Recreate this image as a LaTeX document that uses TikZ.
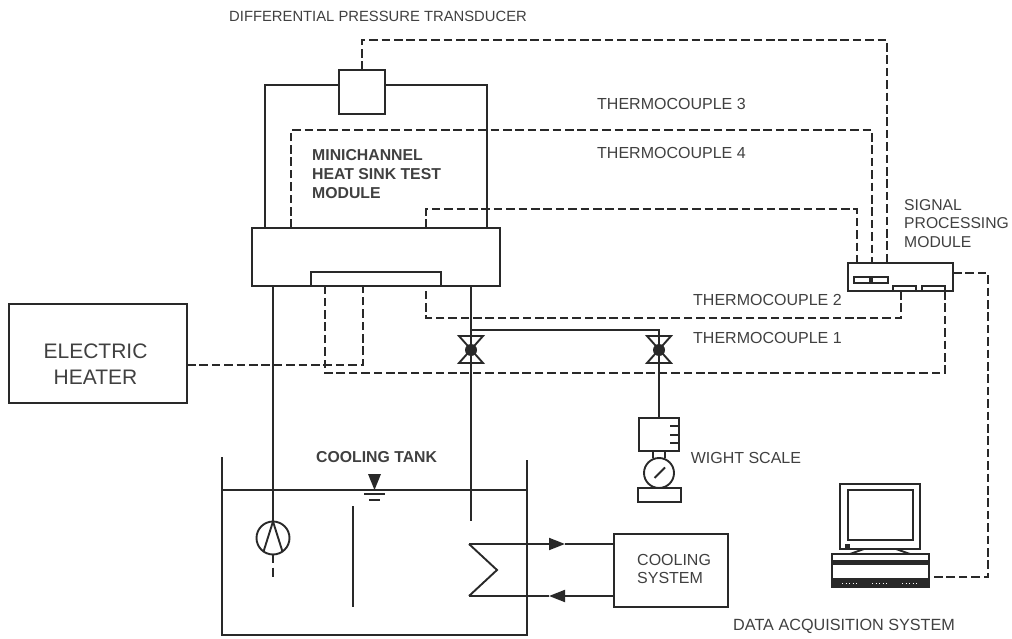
\documentclass[tikz,border=0pt]{standalone}
\usepackage{fontspec}
\setmainfont{Liberation Sans}
\usetikzlibrary{calc, arrows.meta, positioning}

\definecolor{lncol}{gray}{0.16}
\definecolor{txtcol}{gray}{0.25}

\begin{document}
\begin{tikzpicture}[
    x=1pt, y=-1pt,
    box/.style={
        rectangle, draw=lncol, line width=1.9pt, inner sep=0pt, outer sep=0pt
    },
    round/.style={
        box, circle
    },
    valve/.style={
        circle, fill=lncol, inner sep=0pt, outer sep=0pt, minimum size=12pt
    },
    pipe/.style={draw=lncol, line width=1.9pt},
    sigline/.style={draw=lncol, line width=1.9pt, dash pattern=on 8.6pt off 3.8pt},
    arr/.style={pipe, -{Triangle[length=16pt, width=12pt]}},
    lbl/.style={
        font=\fontsize{16}{18.8}\selectfont, text=txtcol, inner sep=0pt,
        align=left, anchor=west
    },
    boldlbl/.style={
        lbl, font=\fontsize{15.8}{19}\selectfont\bfseries
    },
    dots/.style={draw=white, line width=0.8pt, dash pattern=on 1pt off 2.5pt}
]
\useasboundingbox (0,0) rectangle (1012,639);

% Nodes
\node[box, minimum width=248pt, minimum height=58pt] (module) at (376,257) {};
\node[box, minimum width=46pt, minimum height=44pt] (trans) at (362,92) {};
\node[box, minimum width=130pt, minimum height=14pt] (plate) at (376,279) {};
\node[box, line width=2.4pt, minimum width=178pt, minimum height=99pt] (heater) at (98,353.5) {};
\node[box, minimum width=105pt, minimum height=28pt] (sig) at (900.5,277) {};
\node[box, minimum width=16pt, minimum height=6pt] (slota) at (862,280) {};
\node[box, minimum width=16pt, minimum height=6pt, right=2pt of slota] (slotb) {};
\node[box, minimum width=23pt, minimum height=5pt] (taba) at (904.5,288.5) {};
\node[box, minimum width=23pt, minimum height=5pt, right=6pt of taba] (tabb) {};
\node[box, minimum width=114pt, minimum height=73pt] (cool) at (671,570.5) {};

\node[valve] (valvea) at (471,350) {};
\node[valve] (valveb) at (659,350) {};
\node[box, minimum width=40pt, minimum height=33pt] (scale) at (659,434.5) {};
\node[round, minimum size=30pt] (gauge) at (659,473) {};
\node[box, minimum width=43pt, minimum height=14pt] (base) at (659.5,495) {};
\node[round, minimum size=33pt] (pump) at (273,538) {};

\node[box, minimum width=80pt, minimum height=65pt] (monitor) at (880,516.5) {};
\node[box, minimum width=65pt, minimum height=50pt] (screen) at (880.5,515) {};
\node[box, minimum width=97pt, minimum height=33pt] (kbd) at (880.5,570.5) {};
\node[rectangle, fill=lncol, inner sep=0pt, minimum width=5pt, minimum height=5pt] (led) at (847.5,546.5) {};

\coordinate (tee) at (471,330);
\coordinate (pipeend) at (471,521);
\coordinate (coila) at (469,544);
\coordinate (coilb) at (497,570);
\coordinate (coilc) at (469,596);
\coordinate (arra) at (565,544);
\coordinate (arrb) at (549,596);

% Labels
\node[lbl, font=\fontsize{14.8}{18}\selectfont] (ldiff) at (229,16) {DIFFERENTIAL PRESSURE TRANSDUCER};
\node[lbl] (lthree) at (597,104) {THERMOCOUPLE 3};
\node[lbl] (lfour) at (597,153) {THERMOCOUPLE 4};
\node[lbl] (ltwo) at (693,300) {THERMOCOUPLE 2};
\node[lbl] (lone) at (693,338) {THERMOCOUPLE 1};
\node[boldlbl] (lmod) at (312,174.5) {MINICHANNEL\\HEAT SINK TEST\\MODULE};
\node[lbl, font=\fontsize{15.7}{18.8}\selectfont] (lsig) at (904,223.5) {SIGNAL\\PROCESSING\\MODULE};
\node[lbl, align=center, anchor=center, font=\fontsize{21}{26}\selectfont] (lheat) at (95.5,364) {ELECTRIC\\HEATER};
\node[boldlbl] (ltank) at (316,457) {COOLING TANK};
\node[lbl, right=21pt of gauge.north east, yshift=4.5pt] (lwight) {WIGHT SCALE};
\node[lbl] (lcool) at (637,569) {COOLING\\SYSTEM};
\node[lbl, font=\fontsize{16.2}{19}\selectfont] (ldata) at (733,626) {DATA ACQUISITION SYSTEM};

% Test module frame
\draw[pipe] ([xshift=13pt]module.north west) |- ([yshift=7pt]trans.west);
\draw[pipe] ([xshift=-13pt]module.north east) |- ([yshift=7pt]trans.east);

% Signal lines
\draw[sigline] (trans.north) -- ++(0,-30) -| ([xshift=39pt]sig.north west);
\draw[sigline] ([xshift=39pt]module.north west) -- ++(0,-98) -| ([xshift=24pt]sig.north west);
\draw[sigline] ([xshift=174pt]module.north west) -- ++(0,-19) -| ([xshift=9pt]sig.north west);
\draw[sigline] ([xshift=-3.5pt]taba.south) -- ++(0,27) -| ([xshift=174pt]module.south west);
\draw[sigline] (tabb.south east) -- ++(0,82) -| ([xshift=73pt]module.south west);
\draw[sigline, line width=2.3pt] ([yshift=-11.5pt]heater.east) -| ([xshift=111pt]module.south west);
\draw[sigline] ([yshift=4pt]sig.east) -- ++(35,0) |- ([yshift=-6.5pt]kbd.east);

% Pipes
\draw[pipe] ([xshift=21pt]module.south west) -- (pump);
\draw[pipe] ([xshift=219pt]module.south west) -- (valvea) -- (pipeend);
\draw[pipe] (tee) -| (valveb);
\draw[pipe] (valveb) -- (scale);

% Valves
\foreach \v in {valvea, valveb} {
    \draw[pipe, line join=miter] ($(\v)+(-12,-14)$) -- ($(\v)+(12,-14)$) -- ($(\v)+(-12,13)$) -- ($(\v)+(12,13)$) -- cycle;
}

% Scale
\foreach \t in {426,435,443} {
    \draw[pipe] (670,\t) -- (scale.east |- 670,\t);
}
\draw[pipe] ([xshift=-6pt]scale.south) -- ([xshift=-6pt]gauge.north);
\draw[pipe] ([xshift=6pt]scale.south) -- ([xshift=6pt]gauge.north);
\draw[pipe] ([shift={(-4.5,5)}]gauge.center) -- ([shift={(6,-5.5)}]gauge.center);

% Tank
\draw[pipe] (222,457) -- (222,635) -- (527,635) -- (527,460);
\draw[pipe] (222,490) -- (527,490);
\draw[pipe] (353,506) -- (353,607);
\fill[lncol] (368,474) -- (381,474) -- (374.5,490) -- cycle;
\draw[pipe] (364,494) -- (385,494);
\draw[pipe] (369,500) -- (380,500);

% Pump
\draw[pipe] (pump.north) -- (pump.235);
\draw[pipe] (pump.north) -- (pump.305);
\draw[pipe, dash pattern=on 8pt off 5pt on 9pt off 20pt] (pump.south) -- ++(0,22);

% Coil
\draw[pipe, line join=miter] (coila) -- (coilb) -- (coilc);
\draw[arr] (coila) -- (arra);
\draw[pipe] (arra) -- (cool.west |- arra);
\draw[pipe] (coilc) -- (arrb);
\draw[arr] (cool.west |- arrb) -- (arrb);

% Computer
\draw[pipe] (850,554) -- (864,549) -- (896,549) -- (910,554);
\fill[lncol] (kbd.north west |- 0,560) rectangle (kbd.east |- 0,565);
\fill[lncol] (kbd.west |- 0,578) rectangle (kbd.south east);
\foreach \s in {842,872,902} {
    \draw[dots] (\s,583) -- ++(16,0);
}

\end{tikzpicture}
\end{document}
